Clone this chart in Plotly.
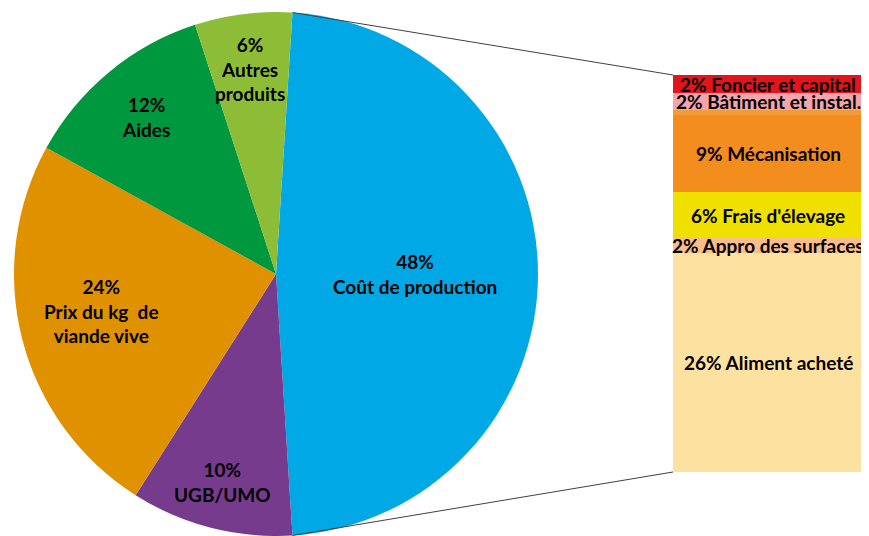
import math
import plotly.graph_objects as go

# ---------------- data ----------------
pie_labels = ["Coût de production", "UGB/UMO", "Prix du kg  de<br>viande vive", "Aides", "Autres<br>produits"]
pie_values = [48, 10, 24, 12, 6]
pie_colors = ["#00A9E6", "#763B8D", "#E09100", "#00983F", "#8DBD37"]

# stacked bar (bottom -> top)
bar_names = ["Aliment acheté", "Appro des surfaces", "Frais d'élevage", "Mécanisation", "", "Bâtiment et instal.", "Foncier et capital"]
bar_pct_text = ["26%", "2%", "6%", "9%", "", "2%", "2%"]
bar_values = [26.5, 1.8, 5.6, 9.3, 0.6, 2.1, 2.2]
bar_colors = ["#FDE1A0", "#F9BD89", "#EFE000", "#F28D1E", "#F39A3A", "#F3A4AD", "#E2141C"]

# ---------------- layout constants ----------------
# the page body has an 8px margin: the figure is drawn 8px in from the window corner
OFF = 8
W, H = 869 - OFF, 536 - OFF
FONT = "Lato"
# pie: centre (268, 266) in figure pixels, radius 262
pie_dom_x = [6 / W, 530 / W]
pie_dom_y = [0, 524 / H]
# bar: x from 665 to the right edge, y from 67 to 464 (figure pixels)
bar_dom_x = [665 / W, 1.0]
bar_dom_y = [(H - 464) / H, (H - 67) / H]
rotation = 3.6

fig = go.Figure()

fig.add_trace(go.Pie(
    labels=pie_labels, values=pie_values, sort=False, direction="clockwise",
    rotation=rotation, marker=dict(colors=pie_colors, line=dict(width=0)),
    textinfo="none", hoverinfo="label+percent", showlegend=False,
    domain=dict(x=pie_dom_x, y=pie_dom_y),
))

total_bar = sum(bar_values)
for name, pct, v, c in zip(bar_names, bar_pct_text, bar_values, bar_colors):
    fig.add_trace(go.Bar(
        x=[0.5], y=[v], width=[1.0], marker=dict(color=c, line=dict(width=0)),
        name=name, xaxis="x2", yaxis="y2", showlegend=False,
        hoverinfo="name+y",
    ))

# pie geometry in figure pixels
cx = (pie_dom_x[0] + pie_dom_x[1]) / 2 * W
cy = H - (pie_dom_y[0] + pie_dom_y[1]) / 2 * H
R = min((pie_dom_x[1] - pie_dom_x[0]) * W, (pie_dom_y[1] - pie_dom_y[0]) * H) / 2

def px_to_paper(x, y):
    return x / W, 1 - y / H

annotations = []
radial_frac = [0.53, 0.82, 0.68, 0.78, 0.79]
angle_shift = [0, 0, 2.5, 0, 0]
tot = sum(pie_values)
ang = rotation
for lab, v, f, s in zip(pie_labels, pie_values, radial_frac, angle_shift):
    span = v / tot * 360
    mid = math.radians(ang + span / 2 + s)
    x = cx + f * R * math.sin(mid)
    y = cy - f * R * math.cos(mid)
    px, py = px_to_paper(x, y)
    annotations.append(dict(
        x=px, y=py, xref="paper", yref="paper", showarrow=False,
        text=f"<b>{round(v / tot * 100)}%<br>{lab}</b>",
        font=dict(family=FONT, size=19, color="black"), align="center",
        xanchor="center", yanchor="middle",
    ))
    ang += span

# bar labels
cum = 0
for name, pct, v in zip(bar_names, bar_pct_text, bar_values):
    if name:
        annotations.append(dict(
            x=0.485, y=cum + v / 2, xref="x2", yref="y2", showarrow=False,
            text=f"<b>{pct} {name}</b>",
            font=dict(family=FONT, size=19, color="black"),
            xanchor="center", yanchor="middle",
        ))
    cum += v

# connector lines from the first slice edges to the bar
a0 = math.radians(rotation)
a1 = math.radians(rotation + pie_values[0] / tot * 360)
p_top = px_to_paper(cx + R * math.sin(a0), cy - R * math.cos(a0))
p_bot = px_to_paper(cx + R * math.sin(a1), cy - R * math.cos(a1))
shapes = [
    dict(type="line", xref="paper", yref="paper", x0=p_top[0], y0=p_top[1],
         x1=bar_dom_x[0], y1=bar_dom_y[1], line=dict(color="#404040", width=1)),
    dict(type="line", xref="paper", yref="paper", x0=p_bot[0], y0=p_bot[1],
         x1=bar_dom_x[0], y1=bar_dom_y[0], line=dict(color="#404040", width=1)),
]

fig.update_layout(
    width=W, height=H, margin=dict(l=0, r=0, t=0, b=0),
    paper_bgcolor="white", plot_bgcolor="rgba(0,0,0,0)",
    barmode="stack", bargap=0,
    xaxis2=dict(domain=bar_dom_x, range=[0, 1], visible=False, fixedrange=True),
    yaxis2=dict(domain=bar_dom_y, range=[0, total_bar], visible=False, fixedrange=True, anchor="x2"),
    xaxis=dict(visible=False), yaxis=dict(visible=False),
    annotations=annotations, shapes=shapes,
    font=dict(family=FONT),
)

fig.write_html("out.html")
